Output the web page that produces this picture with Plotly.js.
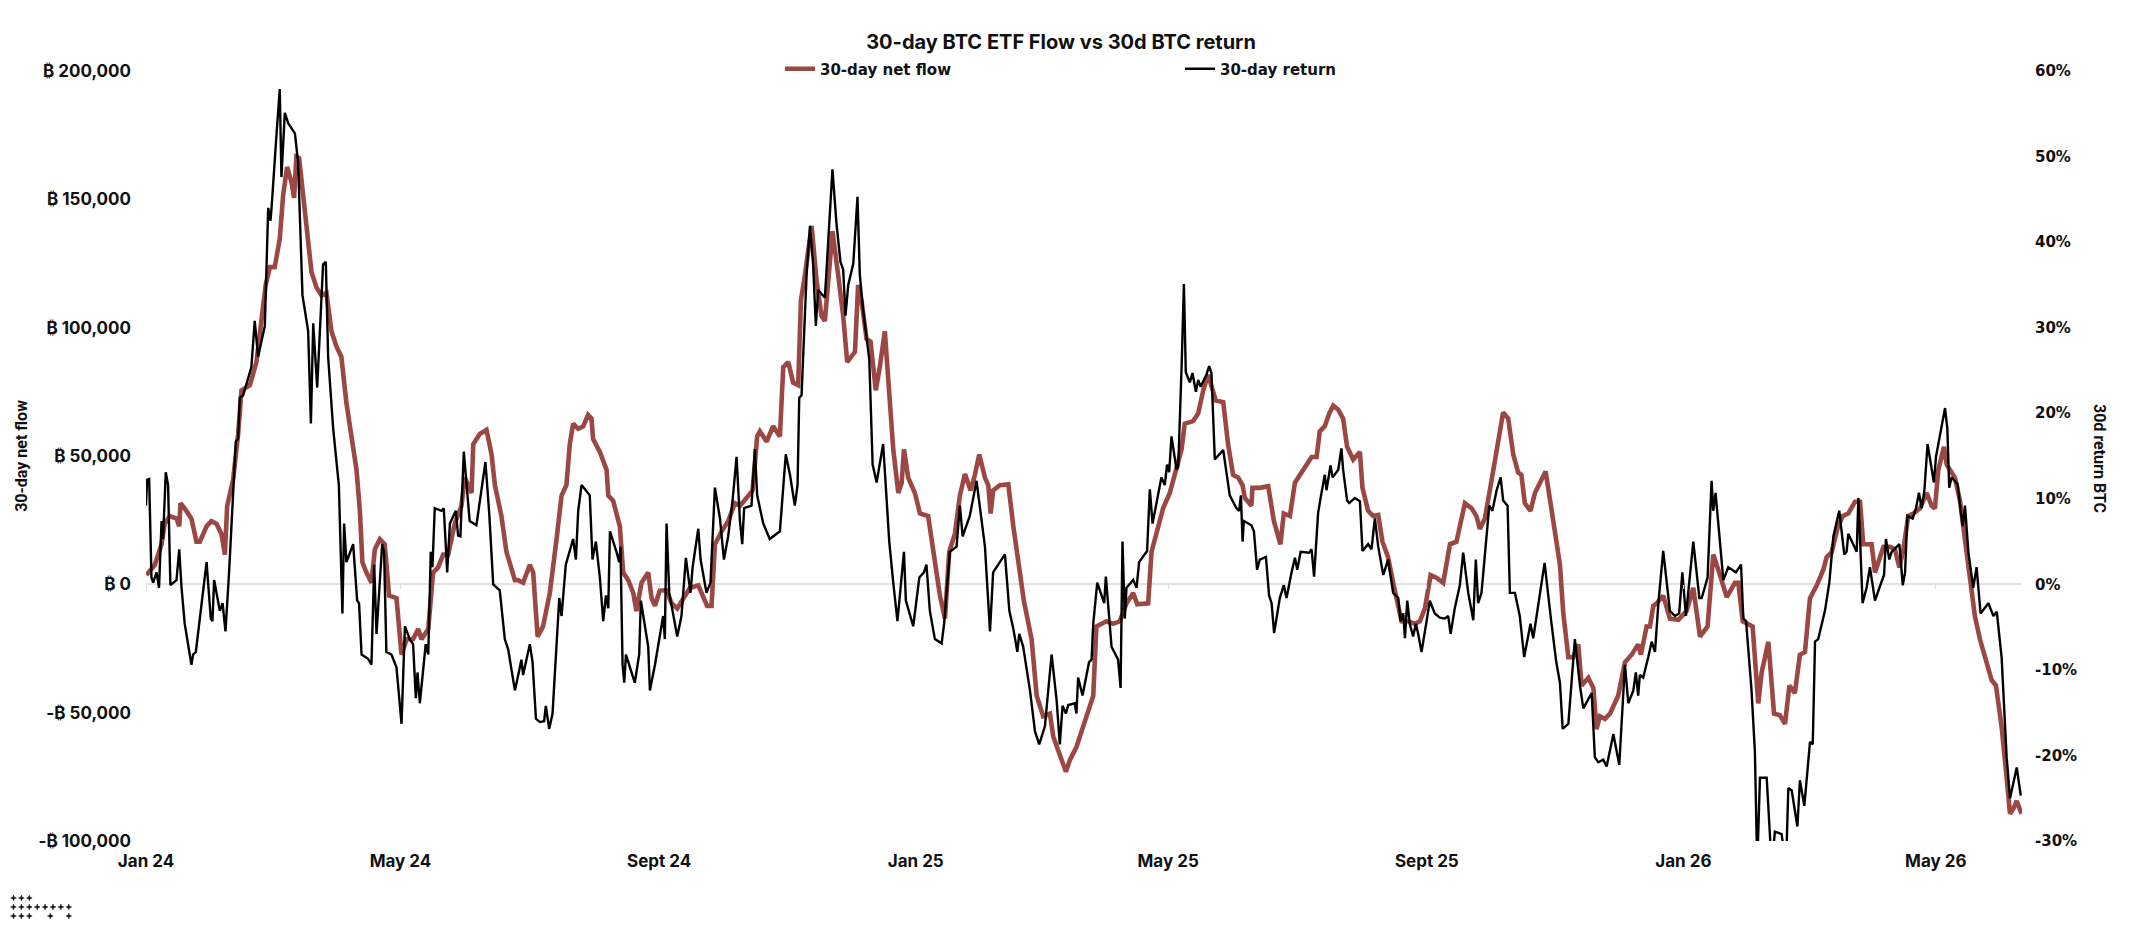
<!DOCTYPE html>
<html><head><meta charset="utf-8">
<script src="https://cdn.plot.ly/plotly-3.0.1.min.js"></script>
<style>html,body{margin:0;padding:0;background:#fff}#chart{width:2140px;height:928px}</style>
</head><body><div id="chart"></div>
<script>
// ---- data (x = days since 2024-01-01) ----
const START_UTC = Date.UTC(2024, 0, 1);
const X_END_DAY = 892;
const monthTicks = ['2024-01-01','2024-05-01','2024-09-01','2025-01-01','2025-05-01','2025-09-01','2026-01-01','2026-05-01'];
const monthLabels = ['Jan 24','May 24','Sept 24','Jan 25','May 25','Sept 25','Jan 26','May 26'];
const flowTicks = [-100000,-50000,0,50000,100000,150000,200000];
const flowTickLabels = ['-\u20BF 100,000','-\u20BF 50,000','\u20BF 0','\u20BF 50,000','\u20BF 100,000','\u20BF 150,000','\u20BF 200,000'];
const returnTicks = [-30,-20,-10,0,10,20,30,40,50,60];
const returnTickLabels = ['-30%','-20%','-10%','0%','10%','20%','30%','40%','50%','60%'];

// 30-day net flow, BTC: [day, value]
const flowSeries = [
[0.2,3600],[4.2,7600],[7.4,15600],[8.9,23600],[11.3,26600],[14.5,25600],[15.8,22600],[16.4,31600],[19.2,28600],[21.6,25600],
[24.0,16600],[25.6,16600],[28.8,22600],[31.1,24600],[33.5,23600],[35.9,19600],[37.5,11600],[38.6,30600],[41.4,40600],[43.8,58600],
[45.4,75600],[49.4,77600],[52.5,86600],[54.1,98600],[56.9,116600],[58.9,123600],[61.2,123600],[63.6,134600],[65.2,151600],[67.1,162600],
[69.2,156600],[70.4,150600],[71.5,166600],[72.8,166000],[74.7,150600],[77.1,132600],[78.7,121600],[81.1,115600],[83.4,112600],[85.8,113600],
[88.2,98600],[90.6,92600],[92.9,88600],[95.3,70600],[97.7,56600],[100.1,44600],[101.7,28600],[102.9,8600],[104.8,4600],[107.2,600],
[108.8,13600],[111.2,17600],[113.5,15600],[115.6,-4400],[119.1,-5400],[121.5,-27400],[123.9,-21400],[127.0,-21400],[129.4,-17400],[131.0,-21400],
[134.2,-17400],[136.5,4600],[138.9,6600],[141.3,11600],[143.7,11600],[146.8,23600],[150.0,30600],[151.6,41600],[154.8,35600],[155.6,54600],
[158.7,58600],[161.9,60200],[164.3,50600],[165.9,38600],[169.0,26600],[171.4,12600],[175.4,1600],[177.0,1600],[179.3,600],[182.5,7600],
[184.1,4600],[186.2,-20400],[188.8,-16400],[192.0,-3400],[195.2,17600],[197.6,34600],[199.9,38600],[201.5,54600],[203.1,62600],[205.5,60600],
[207.9,61600],[210.2,66000],[211.8,64600],[212.6,56600],
[215.8,51600],[219.0,44600],[219.8,34600],[222.1,32600],[225.3,22600],[226.9,4600],[229.3,1600],[231.7,-3400],[233.2,-10400],[235.6,600],
[238.8,4600],[240.4,-5400],[242.0,-8400],[244.3,-2400],[247.5,-2400],[249.9,-7400],[252.6,-9400],[255.4,-5400],[258.6,-1400],[262.6,-400],
[264.9,-4400],[266.8,-8400],[268.9,-8400],[270.5,15600],[273.7,20600],[276.8,24600],[280.0,31600],[282.4,30600],[285.5,33600],[288.4,36600],
[290.6,57600],[291.9,59600],[295.1,55600],[298.2,61600],[301.4,57600],[303.0,84600],[305.4,86600],[307.7,78600],[310.1,77600],[311.4,110600],
[313.3,120600],[316.5,139600],[318.8,118600],[321.2,104600],[322.8,102600],[324.9,124600],[326.4,137600],[329.1,120600],[331.5,104600],[333.4,86600],
[337.1,90600],[338.6,116600],[340.2,110600],[342.6,95600],[344.5,94600],[347.0,75600],[348.9,84600],[351.3,98600],[352.9,80600],[355.3,52600],
[357.7,35600],[359.3,39600],[360.4,52600],[362.4,41600],[365.6,35600],[368.0,27600],[371.9,26600],[374.3,12600],[377.5,-4400],[379.9,-13400],
[381.9,12600],[384.6,19600],[387.0,34600],[389.4,43000],[392.1,36600],[394.1,42600],[396.2,50600],[398.9,41600],[400.5,38600],[401.6,27600],
[402.8,36600],[406.0,38600],[410.0,39000],[412.4,22600],[415.5,4600],[417.4,-6400],[421.1,-21400],[423.5,-43400],[426.6,-51400],[429.8,-50400],
[431.4,-59400],
[434.5,-66400],[437.4,-73000],[439.3,-68400],[442.4,-63400],[445.6,-55400],[448.8,-47400],[450.4,-43400],[451.9,-16400],[456.7,-14400],[459.9,-15400],
[463.0,-14400],[466.2,-7400],[469.4,-3400],[471.3,-7800],[476.5,-7400],[478.1,12600],[480.5,20600],[483.6,29600],[486.8,35600],[489.2,43600],
[492.4,52600],[493.9,62600],[497.9,63600],[500.3,66600],[502.7,75600],[505.0,81600],[507.4,74600],[508.7,71600],[512.2,71000],[514.5,54600],
[516.9,42600],[519.3,41600],[521.4,38600],[522.5,33600],[525.6,30600],[526.1,37600],[529.6,37600],[533.6,38200],[536.3,24600],[539.4,15600],
[541.0,27600],[543.9,26600],[546.3,39600],[548.6,42600],[551.8,46600],[554.2,49600],[556.6,49600],[558.1,59600],[560.5,61600],[562.6,66600],
[564.5,69600],[566.9,68000],[569.2,64600],[571.1,53600],[574.0,48600],[577.2,51600],[578.4,37600],[581.1,28600],[583.5,26600],[585.9,27000],
[587.9,16600],[590.6,10600],[593.0,600],[595.4,-7400],[597.0,-14400],[600.1,-14400],[603.3,-15400],[605.7,-14400],[608.1,-9400],[610.8,3600],
[613.6,2600],[616.8,600],[620.0,15600],[623.1,16600],[627.1,31600],[630.3,29600],[632.6,26600],[634.2,21600],[636.6,25600],[639.8,40600],
[642.9,56600],[645.3,67000],[647.7,64600],[650.1,50600],[652.4,43600],[654.0,42600],[655.6,31600],[658.3,28600],[660.4,35600],[662.8,39600],
[665.5,44000],[668.5,28000],[670.5,16000],
[672.3,7600],[673.9,-11400],[676.3,-28400],[678.6,-28400],[681.0,-23400],[682.6,-39400],[685.8,-36400],[688.2,-40400],[689.7,-56400],[691.3,-51400],
[693.7,-52400],[696.1,-50400],[700.0,-43400],[703.2,-30400],[706.4,-27400],[709.5,-23400],[710.8,-27400],[713.5,-16400],[715.1,-16400],[716.7,-8400],
[718.3,-7400],[721.4,-4400],[724.6,-13400],[728.6,-13800],[732.5,-10400],[735.7,-1400],[738.9,-20400],[742.5,-16400],[745.2,11600],[748.4,3600],
[751.6,-5000],[755.5,600],[757.1,600],[759.2,-14400],[761.9,-15400],[763.9,-16400],[766.6,-46400],[768.2,-34400],[771.4,-22400],[774.1,-50400],
[776.9,-51000],[779.3,-54400],[781.4,-39400],[784.0,-42400],[786.4,-27400],[788.8,-26400],[791.2,-5400],[794.4,-400],[797.5,5600],[799.1,10600],
[801.5,12600],[804.2,21600],[806.7,26600],[809.4,27600],[812.6,32200],[815.0,32200],[816.5,15600],[820.5,15600],[822.1,4600],[824.2,9600],
[826.1,14600],[829.2,14600],[831.6,13600],[833.7,6600],[835.6,13600],[837.9,26600],[840.3,27600],[843.5,29600],[846.7,35600],[849.0,30600],
[850.6,29600],[852.2,44600],[854.9,53600],[856.2,46600],[857.8,44600],[860.1,41600],[862.5,32600],[864.9,17600],[867.3,-400],[869.6,-12400],
[872.0,-21400],[875.2,-30400],[877.6,-37400],[879.6,-39400],[882.3,-55400],[884.7,-75400],[886.3,-89400],[887.9,-87400],[889.5,-84400],[891.8,-89400]
];

// 30-day BTC return, %: [day, value]
const returnSeries = [
[0,9.2],[0.5,12.2],[1.5,12.3],[2.6,0.8],[3.4,0.2],[5.0,1.4],[6.2,-0.4],[7.4,7.4],[8.1,5.3],[9.4,13.1],
[10.5,11.6],[11.6,-0.1],[14.5,0.5],[15.8,4.1],[16.9,-0.4],[18.4,-4.6],[21.6,-9.4],[22.4,-8.2],[23.7,-7.9],[26.4,-2.2],
[28.8,2.6],[30.8,-4.0],[31.6,-4.3],[32.4,0.5],[35.1,-3.1],[36.4,-2.2],[37.8,-5.5],[39.5,1.4],[41.4,11.6],[42.7,16.7],
[43.8,17.0],[44.6,21.8],[46.2,22.1],[50.1,25.4],[51.7,30.8],[53.3,26.6],[56.5,30.2],[58.1,44.0],[59.2,42.5],[59.7,44.0],
[62.0,52.4],[63.6,57.9],[64.4,47.6],[66.0,55.1],[67.6,53.9],[70.8,52.7],[72.3,49.4],[74.4,33.8],[77.1,29.6],[78.4,18.8],
[79.5,30.5],[81.4,23.0],[84.2,37.4],[85.5,37.7],[86.6,26.6],[89.0,18.2],[91.7,11.6],[93.4,-3.4],[94.2,7.1],[95.3,2.6],
[98.5,4.7],[100.4,-1.9],[101.3,-2.2],[102.5,-8.2],[105.6,-8.7],[107.2,-9.4],[108.5,2.3],[109.6,-5.8],[112.3,4.7],[113.2,3.8],
[114.3,-7.9],[116.7,-8.2],[119.1,-9.7],[121.5,-16.3],[123.1,-4.9],[125.4,-6.4],[127.0,-7.0],[128.3,-13.3],[129.1,-10.3],[130.2,-13.9],
[133.0,-7.0],[134.2,-8.2],[135.4,3.8],[136.2,2.0],[137.3,8.9],[140.5,8.6],[141.6,8.9],[143.2,1.4],[144.5,7.1],[147.3,8.6],
[148.4,5.7],[149.5,5.6],[151.1,15.5],[153.9,7.4],[157.1,6.9],[161.4,14.3],[163.2,8.3],[165.1,0.0],[168.2,-0.7],[170.6,-6.4],
[172.2,-7.6],[175.4,-12.4],[177.0,-10.6],[178.5,-8.8],[179.3,-10.6],[182.5,-7.0],[183.8,-9.1],[185.4,-15.7],[187.3,-16.1],[189.3,-16.0],
[190.1,-14.2],[191.7,-16.9],[193.3,-15.1],[194.9,-8.8],[196.5,-1.6],[197.6,-3.7],[199.6,2.3],[203.1,5.3],[204.4,2.9],[205.5,8.6],
[207.1,11.6],[211.0,10.4],[212.3,2.9],[213.9,5.0],
[215.8,0.8],[217.4,-4.3],[218.7,-1.3],[219.8,-2.8],[220.6,6.2],[223.7,3.8],[225.0,2.6],[225.6,4.4],[226.6,-9.4],[227.4,-11.5],
[228.2,-8.2],[230.1,-9.7],[232.4,-11.5],[234.5,-8.2],[235.3,-1.9],[238.8,-7.3],[239.6,-12.4],[242.0,-9.4],[245.9,-3.7],[246.7,-6.4],
[247.5,7.1],[248.8,-1.0],[252.6,-6.1],[254.6,-3.7],[256.7,3.1],[258.9,-1.0],[259.9,2.0],[262.6,6.5],[263.7,2.9],[266.5,-1.0],
[268.4,0.2],[270.5,11.3],[272.9,7.7],[274.8,2.9],[276.8,5.6],[278.9,9.8],[280.8,14.9],[282.4,7.4],[283.5,4.7],[284.4,8.9],
[287.9,9.2],[289.5,15.8],[290.6,10.4],[293.5,7.1],[296.6,5.3],[301.4,6.2],[304.2,15.2],[306.2,12.8],[308.5,9.2],[309.8,11.6],
[310.6,21.8],[311.7,22.1],[314.1,36.2],[315.7,41.9],[317.2,37.4],[318.5,30.2],[319.6,34.4],[322.8,33.5],[325.2,43.4],[326.4,48.5],
[328.3,42.2],[330.2,37.7],[331.5,36.8],[332.6,31.4],[333.9,35.0],[336.3,37.5],[338.3,45.3],[339.4,36.2],[341.0,32.0],[343.9,26.3],
[345.5,14.0],[347.4,11.9],[350.5,16.4],[353.4,5.0],[355.3,0.2],[357.3,-4.3],[360.4,3.8],[361.3,-1.9],[364.8,-4.9],[367.7,0.8],
[369.9,1.4],[371.1,2.3],[372.7,-3.1],[375.1,-6.4],[378.3,-6.9],[379.5,-4.6],[382.2,3.8],[385.4,4.4],[387.0,9.2],[388.3,5.6],
[391.7,8.0],[394.9,12.1],[398.9,4.4],[401.3,-5.5],[402.8,1.4],[405.2,2.3],[408.4,3.5],[410.5,-3.1],[412.4,-5.2],[414.3,-7.9],
[415.2,-5.8],[417.1,-7.3],[420.3,-12.4],[422.7,-17.2],[424.7,-18.7],[427.4,-16.6],[430.6,-8.2],[433.0,-13.6],
[434.5,-18.7],[435.8,-14.2],[437.4,-15.1],[438.5,-14.1],[441.6,-13.9],[442.4,-15.1],[443.2,-10.9],[445.3,-13.0],[448.4,-9.1],[449.6,-8.8],
[450.4,-4.6],[452.3,0.2],[454.8,-1.6],[455.6,-2.2],[456.4,0.9],[458.0,-4.6],[459.1,-7.3],[462.2,-8.8],[463.4,-12.1],[464.3,5.0],
[465.4,-4.0],[466.2,-0.4],[469.4,0.5],[471.0,-0.4],[472.2,2.6],[476.0,3.9],[477.3,11.1],[478.6,7.1],[482.8,12.5],[484.4,11.6],
[485.5,14.0],[486.5,13.1],[487.6,17.3],[490.0,13.4],[490.8,13.7],[492.4,25.4],[493.5,35.1],[494.4,24.8],[496.3,23.6],[497.6,24.7],
[499.2,22.5],[500.3,23.9],[501.4,23.1],[504.2,24.5],[505.5,25.5],[506.6,24.7],[508.2,14.6],[512.2,15.7],[513.4,13.4],[515.3,10.4],
[518.5,8.9],[519.8,8.6],[520.6,10.4],[521.4,5.0],[522.0,7.4],[525.6,6.9],[526.8,6.2],[528.3,1.7],[529.6,2.9],[532.5,3.2],
[534.0,-1.3],[535.2,-2.2],[536.4,-5.7],[539.1,-1.6],[541.0,-0.1],[542.3,-1.6],[544.7,1.4],[546.3,3.1],[547.4,1.7],[549.0,3.8],
[553.1,3.7],[554.2,4.1],[555.4,0.9],[557.3,8.3],[558.5,10.1],[560.5,12.8],[561.3,11.0],[563.2,13.9],[564.2,12.5],[566.9,13.4],
[568.4,15.9],[569.2,13.4],[571.1,9.8],[572.1,9.5],[574.8,10.1],[577.2,9.7],[578.4,3.9],[581.1,4.7],[582.7,4.1],[584.3,7.7],
[585.9,4.4],[588.3,1.1],[590.6,2.9],[593.0,-1.0],[595.4,-1.6],[596.5,-4.3],[597.8,-3.4],[598.6,-6.3],[599.7,-1.9],[600.9,-4.6],
[602.5,-6.1],[603.8,-4.6],[604.9,-5.8],[606.5,-7.9],[608.9,-4.3],[610.4,-1.9],[612.8,-3.4],[615.2,-3.9],[617.6,-4.0],[619.2,-3.7],
[620.3,-5.8],[622.3,-2.8],[624.7,-0.1],[626.3,3.7],[628.7,-1.0],[631.1,-4.2],[632.3,2.9],[633.4,-2.2],[635.0,-1.0],[637.4,5.3],
[638.7,9.2],[640.2,8.6],[642.2,11.0],[644.1,12.5],[645.3,9.8],[647.4,9.2],[648.5,-1.0],[650.9,-1.0],[653.2,-3.7],[655.3,-8.5],
[658.3,-4.6],[659.6,-6.3],[662.8,-1.0],[665.0,2.5],[668.0,-4.0],[670.5,-9.0],
[672.3,-11.5],[673.6,-16.9],[676.3,-16.3],[679.4,-6.4],[681.8,-11.8],[683.4,-14.5],[687.4,-12.7],[688.9,-20.2],[690.5,-20.8],[692.9,-20.5],
[694.5,-21.3],[697.7,-17.5],[700.5,-21.1],[703.2,-9.4],[704.8,-13.9],[707.2,-12.4],[708.4,-10.3],[709.5,-13.0],[710.3,-10.6],[711.9,-10.9],
[714.3,-8.5],[715.9,-6.7],[717.5,-7.9],[719.1,-2.2],[721.4,3.9],[724.6,-3.1],[727.0,-3.7],[729.0,-3.4],[730.5,1.4],[732.2,-3.7],
[735.7,5.0],[738.6,-1.6],[739.7,-1.6],[742.5,0.8],[744.4,12.1],[745.2,8.6],[746.3,10.7],[750.0,0.5],[752.3,2.0],[756.0,1.4],
[758.4,2.3],[759.5,-4.0],[760.8,-4.3],[763.4,-12.4],[765.0,-19.6],[766.1,-33.0],[767.4,-22.6],[770.6,-22.6],[773.0,-33.0],[774.5,-28.9],
[777.7,-29.2],[779.8,-33.0],[780.9,-23.8],[782.5,-24.1],[785.2,-28.3],[786.4,-22.9],[788.5,-25.9],[791.2,-18.4],[792.5,-18.7],[793.6,-6.7],
[795.1,-6.4],[798.3,-3.1],[800.4,0.2],[802.3,5.6],[805.1,8.6],[807.5,3.5],[808.6,3.8],[809.4,5.9],[813.4,3.8],[814.2,10.1],
[816.2,-2.2],[818.1,-0.4],[819.7,2.0],[822.1,-1.9],[824.2,-0.4],[826.4,1.1],[827.3,5.3],[828.9,2.9],[830.0,3.8],[831.3,4.1],
[833.7,4.7],[835.3,-0.1],[836.4,1.4],[837.5,8.0],[840.0,7.7],[841.6,8.9],[843.0,10.7],[844.3,8.9],[845.6,11.0],[847.1,16.4],
[849.0,13.7],[850.1,11.9],[851.1,14.9],[855.4,20.6],[856.5,18.2],[857.4,11.3],[858.5,12.5],[861.4,11.7],[863.0,8.3],[863.8,6.8],
[864.9,9.2],[866.5,3.8],[868.8,-0.4],[870.4,2.0],[872.3,-3.4],[876.0,-2.2],[878.4,-3.7],[880.0,-3.2],[882.3,-8.5],[884.7,-20.2],
[886.3,-25.0],[888.2,-22.6],[889.5,-21.4],[891.4,-24.7]
];

// logo star grid positions (column index per row)
const logoRows = [[0,1,2],[0,1,2,3,4,5,6,7],[0,1,2,4.66,7]];

// ---- helpers ----
function dayToDate(d) {
  const s = new Date(START_UTC + d * 86400000).toISOString();
  return s.slice(0, 10) + ' ' + s.slice(11, 19);
}

const W = 2140, H = 928;
const M = {l: 146, r: 118, t: 71, b: 87, autoexpand: false};
const PW = W - M.l - M.r, PH = H - M.t - M.b;
const px2x = X => (X - M.l) / PW;
const px2y = Y => (H - M.b - Y) / PH;

const RED = '#9b4844';
const LABEL_FONT = {family: 'Inter, Roboto, sans-serif', size: 17, color: '#111', weight: 700};
const WIDE_FONT = {family: '"DejaVu Sans", sans-serif', size: 15, color: '#111', weight: 700};

const traces = [
  {
    name: '30-day net flow',
    x: flowSeries.map(p => dayToDate(p[0])),
    y: flowSeries.map(p => p[1]),
    type: 'scatter', mode: 'lines',
    line: {color: RED, width: 4.6},
    yaxis: 'y', xaxis: 'x',
    hoverinfo: 'x+y'
  },
  {
    name: '30-day return',
    x: returnSeries.map(p => dayToDate(p[0])),
    y: returnSeries.map(p => p[1]),
    type: 'scatter', mode: 'lines',
    line: {color: '#000', width: 2.4},
    yaxis: 'y2', xaxis: 'x',
    hoverinfo: 'x+y'
  },
  { // carrier for the zero-line month ticks
    x: [], y: [], xaxis: 'x2', yaxis: 'y', type: 'scatter', mode: 'lines', showlegend: false, hoverinfo: 'skip'
  }
];

const annotations = [
  {
    text: '30d return BTC', textangle: 90, showarrow: false,
    xref: 'paper', yref: 'paper', x: px2x(2100), y: px2y(458), xanchor: 'center', yanchor: 'middle',
    font: {family: 'Roboto, Inter, sans-serif', size: 16, color: '#111', weight: 700}
  }
];

// small four-point-star logo drawn as shapes (pixel-sized, anchored in paper space)
const STAR_PATH = 'M0,2.8 L0.7,0.7 L2.8,0 L0.7,-0.7 L0,-2.8 L-0.7,-0.7 L-2.8,0 L-0.7,0.7 Z';
const rowY = [898, 907, 916];
const shapes = [];
logoRows.forEach((cols, r) => {
  cols.forEach(c => {
    shapes.push({
      type: 'path', path: STAR_PATH,
      xref: 'paper', yref: 'paper', xsizemode: 'pixel', ysizemode: 'pixel',
      xanchor: px2x(13.5 + c * 7.9), yanchor: px2y(rowY[r]),
      fillcolor: '#111', line: {width: 0.6, color: '#111'}, layer: 'above'
    });
  });
});

const xRange = [dayToDate(0), dayToDate(X_END_DAY)];

const layout = {
  width: W, height: H,
  margin: M,
  paper_bgcolor: '#fff', plot_bgcolor: '#fff',
  showlegend: true,
  title: {
    text: '30-day BTC ETF Flow vs 30d BTC return',
    x: 1061 / W, xref: 'container', xanchor: 'center',
    y: 1 - 42 / H, yref: 'container', yanchor: 'middle',
    font: {family: 'Inter, Roboto, sans-serif', size: 20, color: '#111', weight: 700}
  },
  legend: {
    orientation: 'h', xref: 'container', yref: 'container',
    x: 780 / W, xanchor: 'left', y: 1 - 69 / H, yanchor: 'middle',
    entrywidth: 355, entrywidthmode: 'pixels', itemwidth: 30,
    font: WIDE_FONT, bgcolor: 'rgba(0,0,0,0)', traceorder: 'normal'
  },
  xaxis: {
    type: 'date', range: xRange,
    tickmode: 'array', tickvals: monthTicks, ticktext: monthLabels,
    showgrid: false, zeroline: false, showline: false, ticks: '',
    tickfont: LABEL_FONT, ticklabelstandoff: 8
  },
  xaxis2: {
    type: 'date', range: xRange, overlaying: 'x', anchor: 'free', position: 1 / 3, side: 'bottom',
    tickmode: 'array', tickvals: monthTicks, showticklabels: false,
    ticks: 'outside', ticklen: 4, tickwidth: 1, tickcolor: '#d9d9d9',
    showgrid: false, zeroline: false, showline: false
  },
  yaxis: {
    range: [-100000, 200000], tickmode: 'array', tickvals: flowTicks, ticktext: flowTickLabels,
    showgrid: false, zeroline: true, zerolinecolor: '#e2e2e2', zerolinewidth: 1.5,
    showline: false, ticks: '', tickfont: LABEL_FONT, ticklabelstandoff: 14,
    title: {text: '30-day net flow', standoff: 6, font: {family: 'Roboto, Inter, sans-serif', size: 16, color: '#111', weight: 700}}
  },
  yaxis2: {
    range: [-30, 60], overlaying: 'y', side: 'right', anchor: 'x',
    tickmode: 'array', tickvals: returnTicks, ticktext: returnTickLabels,
    showgrid: false, zeroline: false, showline: false, ticks: '',
    tickfont: WIDE_FONT, ticklabelstandoff: 12
  },
  annotations: annotations,
  shapes: shapes
};

Plotly.newPlot('chart', traces, layout, {displayModeBar: false, responsive: false});
</script>
</body></html>
